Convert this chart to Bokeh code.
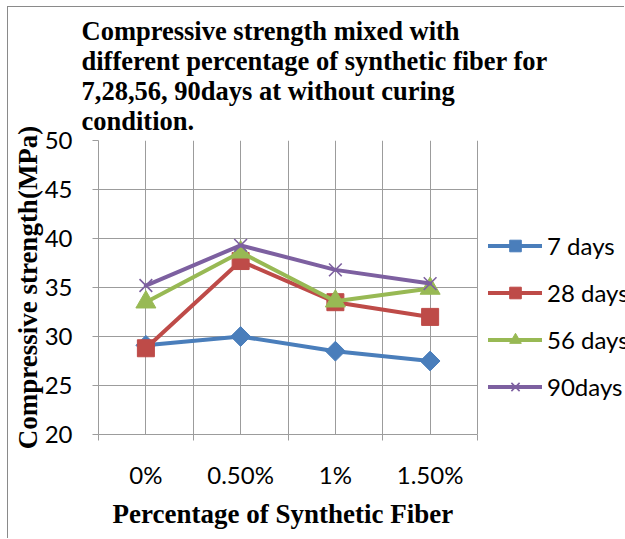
import math
from bokeh.plotting import figure
from bokeh.models import FixedTicker, Legend, LegendItem, Title
from bokeh.embed import file_html
from bokeh.resources import INLINE

# ---- data ----
categories = ["0%", "0.50%", "1%", "1.50%"]
days7 = [29.1, 30.0, 28.5, 27.5]
days28 = [28.8, 37.7, 33.5, 32.0]
days56 = [33.5, 38.6, 33.6, 34.9]
days90 = [35.2, 39.3, 36.8, 35.4]
series_names = ["7 days", "28 days", "56 days", "90days"]
y_ticks = [20, 25, 30, 35, 40, 45, 50]
title_lines = [
    "Compressive strength mixed with",
    "different percentage of synthetic fiber for",
    "7,28,56, 90days at without curing",
    "condition.",
]
x_title = "Percentage of  Synthetic Fiber"
y_title = "Compressive strength(MPa)"

# ---- styling / layout ----
colors = ["#4A7EBB", "#BE4B48", "#98B954", "#7D60A0"]
SERIF = "Liberation Serif"
SANS = "Lato"
GRID = "#9c9c9c"
W, H = 617, 532
LEFT, TOP, BOTTOM = 90, 133, 105
PLOT_W = 379          # pixel width of the category area
n = len(categories)
xs = [i + 0.5 for i in range(n)]
x_end = n * (W - LEFT) / PLOT_W   # frame runs to the canvas edge so the legend is not clipped

p = figure(width=W, height=H, output_backend="svg", toolbar_location=None,
           x_range=(0, x_end), y_range=(y_ticks[0], y_ticks[-1]),
           min_border_left=LEFT, min_border_right=0, min_border_top=TOP,
           min_border_bottom=BOTTOM)
p.margin = (6, 0, 0, 7)
p.styles = {"border-left": "1px solid #8a8a8a", "border-top": "1px solid #8a8a8a"}
p.outline_line_color = None
p.background_fill_color = "white"
p.border_fill_color = "white"

# title (multi-line)
p.title.text = "\n".join(title_lines)
p.title.text_font = SERIF
p.title.text_font_style = "bold"
p.title.text_font_size = "26.5px"
p.title.text_color = "black"
p.title.align = "left"
p.title.offset = -17
p.title.standoff = 10

# x axis: labels at category centres, tick marks at boundaries
p.xaxis.bounds = (0, n)
p.xaxis.ticker = FixedTicker(ticks=xs, minor_ticks=list(range(n + 1)))
p.xaxis.major_label_overrides = {x: c for x, c in zip(xs, categories)}
p.xaxis.major_tick_out = 0
p.xaxis.major_tick_in = 0
p.xaxis.minor_tick_out = 6
p.xaxis.minor_tick_in = 0
p.xaxis.minor_tick_line_color = GRID
p.xaxis.axis_line_color = GRID
p.xaxis.major_label_standoff = 19
p.xaxis.major_label_text_font = SANS
p.xaxis.major_label_text_font_size = "24px"
p.xaxis.major_label_text_color = "black"

xt = Title(text=x_title, text_font=SERIF, text_font_style="bold", text_font_size="27px",
           text_color="black", align="left", offset=14, standoff=10)
p.add_layout(xt, "below")

p.yaxis.ticker = FixedTicker(ticks=y_ticks)
p.yaxis.major_tick_out = 6
p.yaxis.major_tick_in = 0
p.yaxis.minor_tick_line_color = None
p.yaxis.major_tick_line_color = GRID
p.yaxis.axis_line_color = GRID
p.yaxis.major_label_standoff = 20
p.yaxis.major_label_text_font = SANS
p.yaxis.major_label_text_font_size = "24px"
p.yaxis.major_label_text_color = "black"

yt = Title(text=y_title, text_font=SERIF, text_font_style="bold", text_font_size="27px",
           text_color="black", align="center", offset=17, standoff=-3)
p.add_layout(yt, "left")

p.xgrid.grid_line_color = GRID
p.xgrid.minor_grid_line_color = GRID
p.ygrid.grid_line_color = GRID
yg = p.ygrid[0]
if "cross_bounds" in yg.properties():
    yg.cross_bounds = (0, n)
else:
    yg.grid_line_color = None
    p.segment(x0=[0] * len(y_ticks), x1=[n] * len(y_ticks), y0=y_ticks, y1=y_ticks,
              line_color=GRID, line_width=1, level="underlay")

# ---- series ----
series = [days7, days28, days56, days90]
markers = [("square", 14, math.pi / 4, 1), ("square", 17, 0, 1),
           ("triangle", 20, 0, 1), ("x", 18, 0, 1.6)]
items = []
for name, vals, col, (mk, sz, ang, lw) in zip(series_names, series, colors, markers):
    lr = p.line(xs, vals, line_color=col, line_width=4, line_join="round", line_cap="round")
    sr = p.scatter(xs, vals, marker=mk, size=sz, angle=ang, fill_color=col,
                   line_color=col, line_width=lw)
    items.append(LegendItem(label=name, renderers=[lr, sr]))

legend = Legend(items=items, location=(390, 33), glyph_width=54, glyph_height=29,
                label_height=29, label_standoff=5, spacing=18, padding=0, margin=0,
                border_line_color=None, background_fill_alpha=0,
                label_text_font=SANS, label_text_font_size="24px",
                label_text_color="black")
p.add_layout(legend, "center")

open("out.html", "w").write(file_html(p, INLINE))
